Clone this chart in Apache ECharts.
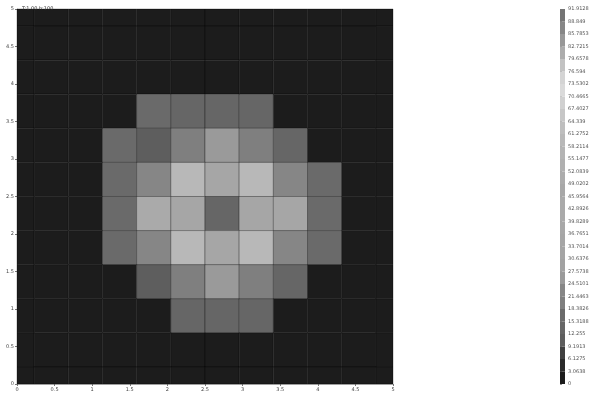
<!DOCTYPE html>
<html>
<head>
<meta charset="utf-8">
<script src="https://cdn.jsdelivr.net/npm/echarts@6/dist/echarts.min.js"></script>
<style>
  html, body { margin: 0; padding: 0; background: #fff; }
  #chart { width: 595px; height: 396px; }
</style>
</head>
<body>
<div id="chart"></div>
<script>
// cell centres (same on x and y), 12 x 12 grid over 0..5
const cellPos = [0, 0.4545, 0.9091, 1.3636, 1.8182, 2.2727, 2.7273, 3.1818, 3.6364, 4.0909, 4.5455, 5];
const cellSize = 0.4545;

// intensity per cell, top row first (y = 5 ... y = 0)
const rows = [
  [1, 1, 1, 1, 1, 1, 1, 1, 1, 1, 1, 1],
  [1, 1, 1, 1, 1, 1, 1, 1, 1, 1, 1, 1],
  [1, 1, 1, 1, 1, 1, 1, 1, 1, 1, 1, 1],
  [1, 1, 1, 1, 16.5, 14, 14, 14, 1, 1, 1, 1],
  [1, 1, 1, 16.2, 11, 20, 26, 20, 13, 1, 1, 1],
  [1, 1, 1, 16.5, 23, 60, 35, 60, 23, 16.5, 1, 1],
  [1, 1, 1, 16.5, 42, 35, 14, 35, 35, 16, 1, 1],
  [1, 1, 1, 16.5, 23, 60, 35, 60, 23, 16.5, 1, 1],
  [1, 1, 1, 1, 12, 20, 26, 20, 12.5, 1, 1, 1],
  [1, 1, 1, 1, 1, 14, 14, 14, 1, 1, 1, 1],
  [1, 1, 1, 1, 1, 1, 1, 1, 1, 1, 1, 1],
  [1, 1, 1, 1, 1, 1, 1, 1, 1, 1, 1, 1]
];

// colour scale: 30 bands from 0 to 91.9128
const barStep = 3.06376;
const barMax = 91.9128;
const barColors = [
  '#1c1c1c', '#2a2a2a', '#404040', '#5e5e5e', '#666666', '#6a6a6a',
  '#7f7f7f', '#868686', '#9a9a9a', '#a2a2a2', '#a5a5a5', '#a6a6a6',
  '#a8a8a8', '#aaaaaa', '#aaaaaa', '#a8a8a8', '#acacac', '#b0b0b0',
  '#b4b4b4', '#b8b8b8', '#bebebe', '#c6c6c6', '#d0d0d0', '#dadada',
  '#d4d4d4', '#c2c2c2', '#acacac', '#989898', '#868686', '#747474'
];

const titleText = 'T:1.00 h:100';

const cells = [];
rows.forEach((row, r) => {
  const y = cellPos[cellPos.length - 1 - r];
  row.forEach((v, c) => cells.push([cellPos[c], y, v]));
});

const pieces = barColors.map((color, k) => ({
  gte: k * barStep,
  lt: k === barColors.length - 1 ? barMax + 1 : (k + 1) * barStep,
  color: color
}));
const barData = barColors.map((c, k) => [0, k * barStep, k * barStep + barStep / 2]);

const chart = echarts.init(document.getElementById('chart'));

function cellItem(params, api) {
  const x = api.value(0), y = api.value(1);
  const p0 = api.coord([x - cellSize / 2, y + cellSize / 2]);
  const p1 = api.coord([x + cellSize / 2, y - cellSize / 2]);
  const cs = params.coordSys;
  const rect = echarts.graphic.clipRectByRect(
    { x: p0[0], y: p0[1], width: p1[0] - p0[0], height: p1[1] - p0[1] },
    { x: cs.x, y: cs.y, width: cs.width, height: cs.height }
  );
  return rect && {
    type: 'rect',
    shape: rect,
    style: { fill: api.visual('color'), stroke: 'rgba(0,0,0,0.3)', lineWidth: 1 }
  };
}

function barItem(params, api) {
  const low = api.value(1);
  const p0 = api.coord([0, low + barStep]);
  const p1 = api.coord([1, low]);
  return {
    type: 'rect',
    shape: { x: p0[0], y: p0[1], width: p1[0] - p0[0], height: p1[1] - p0[1] },
    style: { fill: api.visual('color') }
  };
}

const axisLabel = { fontSize: 5, color: '#444', margin: 3, fontFamily: 'DejaVu Sans' };

chart.setOption({
  animation: false,
  backgroundColor: '#fff',
  title: {
    text: titleText,
    left: 17, top: 1,
    textStyle: { fontSize: 5, color: '#333', fontWeight: 'normal', fontFamily: 'DejaVu Sans' }
  },
  grid: [
    { left: 17, top: 9, width: 376, height: 375 },
    { left: 560, top: 9, width: 5, height: 375 }
  ],
  xAxis: [
    {
      gridIndex: 0, type: 'value', min: 0, max: 5, interval: 0.5,
      axisLine: { lineStyle: { color: '#bbb' } },
      axisTick: { length: 2, lineStyle: { color: '#777' } },
      axisLabel: axisLabel,
      splitLine: { show: false }
    },
    { gridIndex: 1, type: 'value', min: 0, max: 1, show: false }
  ],
  yAxis: [
    {
      gridIndex: 0, type: 'value', min: 0, max: 5, interval: 0.5,
      axisLine: { show: true, lineStyle: { color: '#bbb' } },
      axisTick: { show: true, length: 2, lineStyle: { color: '#777' } },
      axisLabel: axisLabel,
      splitLine: { show: false }
    },
    {
      gridIndex: 1, type: 'value', min: 0, max: barMax, interval: barStep,
      position: 'right',
      axisLine: { show: false },
      axisTick: { show: true, length: 2, lineStyle: { color: '#999' } },
      axisLabel: Object.assign({}, axisLabel, {
        color: '#555',
        formatter: v => String(parseFloat(v.toFixed(4)))
      }),
      splitLine: { show: false }
    }
  ],
  visualMap: {
    type: 'piecewise',
    show: false,
    dimension: 2,
    seriesIndex: [0, 1],
    pieces: pieces
  },
  series: [
    {
      type: 'custom',
      xAxisIndex: 0, yAxisIndex: 0,
      renderItem: cellItem,
      encode: { x: 0, y: 1 },
      data: cells
    },
    {
      type: 'custom',
      xAxisIndex: 1, yAxisIndex: 1,
      renderItem: barItem,
      encode: { x: 0, y: 1 },
      data: barData
    }
  ]
});
</script>
</body>
</html>
